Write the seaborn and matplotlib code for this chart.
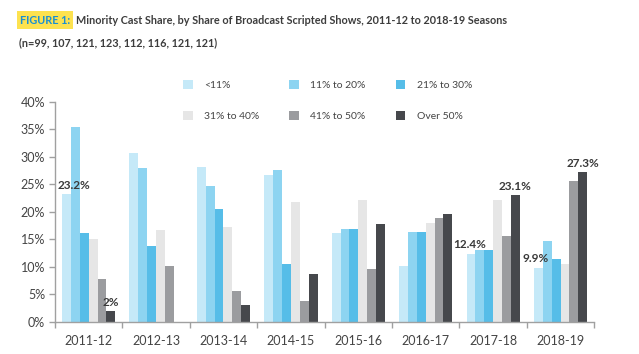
import matplotlib
matplotlib.use("Agg")
import matplotlib.pyplot as plt
from matplotlib.patches import Patch
from matplotlib.ticker import FixedLocator
import seaborn as sns
import pandas as pd

seasons = ["2011-12", "2012-13", "2013-14", "2014-15",
           "2015-16", "2016-17", "2017-18", "2018-19"]
groups = ["<11%", "11% to 20%", "21% to 30%",
          "31% to 40%", "41% to 50%", "Over 50%"]
colors = ["#c5e9f8", "#8dd4f1", "#56bde8", "#e6e6e6", "#9b9c9f", "#46484c"]

under_11 = [23.2, 30.7, 28.1, 26.7, 16.1, 10.2, 12.4, 9.9]
p11_20 = [35.4, 28.0, 24.7, 27.6, 16.9, 16.3, 13.1, 14.8]
p21_30 = [16.1, 13.9, 20.6, 10.5, 16.9, 16.3, 13.1, 11.5]
p31_40 = [15.1, 16.7, 17.3, 21.9, 22.2, 18.0, 22.2, 10.6]
p41_50 = [7.9, 10.2, 5.7, 3.9, 9.6, 18.9, 15.6, 25.6]
over_50 = [2.0, 0.0, 3.1, 8.8, 17.8, 19.7, 23.1, 27.3]

# labelled bars: (season, group, text, x shift in bar widths)
labels = [("2011-12", "<11%", "23.2%", 0.8), ("2011-12", "Over 50%", "2%", 0),
          ("2017-18", "<11%", "12.4%", -0.2), ("2017-18", "Over 50%", "23.1%", 0),
          ("2018-19", "<11%", "9.9%", -0.3), ("2018-19", "Over 50%", "27.3%", 0)]

series = [under_11, p11_20, p21_30, p31_40, p41_50, over_50]
rows = []
for g, vals in zip(groups, series):
    for s, v in zip(seasons, vals):
        rows.append({"season": s, "group": g, "share": v})
df = pd.DataFrame(rows)

sns.set_style("white")
plt.rcParams["font.family"] = ["Lato", "DejaVu Sans"]

fig = plt.figure(figsize=(6.39, 3.54), dpi=100)
ax = fig.add_axes([0.086, 0.0904, 0.844, 0.6216])

sns.barplot(data=df, x="season", y="share", hue="group", order=seasons,
            hue_order=groups, palette=colors, width=0.79, linewidth=0,
            saturation=1, ax=ax, legend=False)

ax.set_ylim(0, 40)
ax.set_xlim(-0.5, len(seasons) - 0.5)
ax.set_yticks(range(0, 41, 5))
ax.set_yticklabels([f"{t}%" for t in range(0, 41, 5)])
ax.set_xlabel("")
ax.set_ylabel("")
for side in ["top", "right"]:
    ax.spines[side].set_visible(False)
for side in ["left", "bottom"]:
    ax.spines[side].set_color("#a0a0a0")
    ax.spines[side].set_linewidth(1.0)
ax.tick_params(axis="y", which="major", left=True, length=4, width=1,
               color="#a0a0a0", labelsize=9, labelcolor="#444444", pad=3)
ax.tick_params(axis="x", which="major", bottom=False, labelsize=9,
               labelcolor="#444444", pad=6)
ax.xaxis.set_minor_locator(FixedLocator([i - 0.5 for i in range(len(seasons) + 1)]))
ax.tick_params(axis="x", which="minor", bottom=True, length=4, width=1,
               color="#a0a0a0")

# value labels
n = len(groups)
bw = 0.79 / n
for s, g, txt, dx in labels:
    i = seasons.index(s)
    j = groups.index(g)
    v = df[(df.season == s) & (df.group == g)].share.iloc[0]
    x = i - 0.79 / 2 + bw * (j + 0.5 + dx)
    ax.text(x, v + 0.6, txt, ha="center", va="bottom", fontsize=8.5,
            fontweight="bold", color="#3a3a3a")

# legend in row order
handles = [Patch(facecolor=c, edgecolor="none") for c in colors]
order = [0, 3, 1, 4, 2, 5]
fig.legend([handles[k] for k in order], [groups[k] for k in order],
           ncol=3, frameon=False, loc="upper left",
           bbox_to_anchor=(0.272, 0.80), fontsize=7.5,
           handlelength=0.9, handleheight=0.9, handletextpad=1.1,
           columnspacing=2.9, labelspacing=2.0, labelcolor="#444444")

# title
t1 = fig.text(20 / 639, 1 - 20 / 354, "FIGURE 1:", fontsize=7.8,
              fontweight="bold", color="#1b8fd2", va="center", ha="left",
              bbox=dict(facecolor="#fde24f", edgecolor="none", pad=2.2))
fig.canvas.draw()
bb = t1.get_window_extent(fig.canvas.get_renderer())
fig.text(bb.x1 / fig.bbox.width + 6 / 639, 1 - 20 / 354,
         "Minority Cast Share, by Share of Broadcast Scripted Shows, 2011-12 to 2018-19 Seasons",
         fontsize=7.8, fontweight="bold", color="#3d3d3d", va="center", ha="left")
fig.text(19 / 639, 1 - 43 / 354, "(n=99, 107, 121, 123, 112, 116, 121, 121)",
         fontsize=7.8, fontweight="bold", color="#3d3d3d", va="center", ha="left")

fig.savefig("out.png", dpi=100)
